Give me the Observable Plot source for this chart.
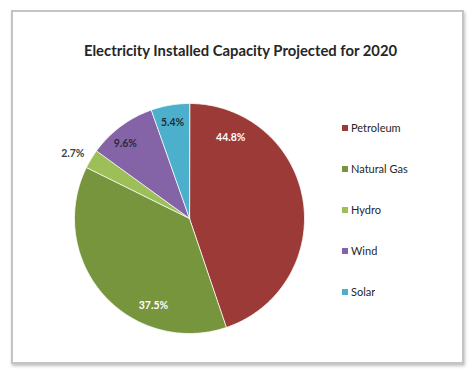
<!DOCTYPE html>
<html>
<head>
<meta charset="utf-8">
<script src="https://cdn.jsdelivr.net/npm/d3@7"></script>
<script src="https://cdn.jsdelivr.net/npm/@observablehq/plot@0.6"></script>
<style>
  html, body { margin: 0; padding: 0; background: #fff; }
  #wrap { position: relative; width: 474px; height: 371px; overflow: hidden; font-family: Lato, "Open Sans", sans-serif; }
  #frame { position: absolute; left: 11px; top: 10px; width: 449px; height: 350px; border: 2px solid #c4c4c4; box-shadow: 1px 2px 3px rgba(0,0,0,0.25); background: #fff; }
  #chart { position: absolute; left: 0; top: 0; }
  #legend { position: absolute; left: 342px; top: 121px; }
  .lg-swatches { font-family: Lato, "Open Sans", sans-serif !important; font-size: 11px !important; color: #262626 !important; margin: 0 !important; min-height: 0 !important; }
  .lg-swatches-columns .lg-swatch { height: 41px !important; padding: 0 !important; align-items: flex-start !important; }
  .lg-swatch svg { margin-right: 3px !important; margin-top: 4px; }
</style>
</head>
<body>
<div id="wrap">
  <div id="frame"></div>
  <div id="chart"></div>
  <div id="legend"></div>
</div>
<script>
const categories = ["Petroleum", "Natural Gas", "Hydro", "Wind", "Solar"];
const shares = [44.8, 37.5, 2.7, 9.6, 5.4];
const labels = ["44.8%", "37.5%", "2.7%", "9.6%", "5.4%"];
const colors = ["#9B3A37", "#77953D", "#9DBF57", "#8464A6", "#4CAFCB"];
const labelColors = ["#ffffff", "#ffffff", "#404040", "#2a2a3a", "#1f2f3a"];
// Excel "best fit" label placement: bearing (deg, clockwise from north) and radius fraction
const labelBearing = [27, 202.5, 299, 319.5, 350];
const labelRadius = [0.79, 0.82, 1.16, 0.86, 0.85];
const title = "Electricity Installed Capacity Projected for 2020";

const pie = d3.pie().sort(null).value(d => d)(shares);

// polygon vertices for each slice (angles from d3.pie, clockwise from 12 o'clock)
const pts = [];
pie.forEach((p, i) => {
  const cat = categories[i];
  pts.push({cat, x: 0, y: 0});
  const n = Math.max(2, Math.ceil((p.endAngle - p.startAngle) / 0.01));
  for (let k = 0; k <= n; k++) {
    const a = p.startAngle + (p.endAngle - p.startAngle) * k / n;
    pts.push({cat, x: Math.sin(a), y: Math.cos(a)});
  }
});

const labelData = categories.map((c, i) => {
  const a = labelBearing[i] * Math.PI / 180;
  return {cat: c, text: labels[i], fill: labelColors[i],
          x: labelRadius[i] * Math.sin(a), y: labelRadius[i] * Math.cos(a)};
});

const chart = Plot.plot({
  width: 474,
  height: 371,
  margin: 0,
  style: {background: "transparent", overflow: "visible"},
  x: {domain: [-1, 1], range: [74, 304], axis: null},
  y: {domain: [-1, 1], range: [333, 103], axis: null},
  color: {domain: categories, range: colors},
  marks: [
    Plot.line(pts, {x: "x", y: "y", z: "cat", fill: "cat", stroke: "#ffffff", strokeWidth: 0.8, curve: "linear-closed"}),
    Plot.text(labelData, {x: "x", y: "y", text: "text", fill: "fill", fontWeight: "bold", fontSize: 10.5, fontFamily: "Lato, 'Open Sans', sans-serif"}),
    Plot.text([title], {frameAnchor: "top-left", dx: 240, dy: 45, textAnchor: "middle", text: d => d, fontWeight: "bold", fontSize: 14.8, fill: "#262626", fontFamily: "Lato, 'Open Sans', sans-serif"})
  ]
});
document.getElementById("chart").appendChild(chart);

const legend = Plot.legend({
  color: {domain: categories, range: colors},
  legend: "swatches",
  columns: 1,
  swatchSize: 6,
  className: "lg"
});
document.getElementById("legend").appendChild(legend);
</script>
</body>
</html>
